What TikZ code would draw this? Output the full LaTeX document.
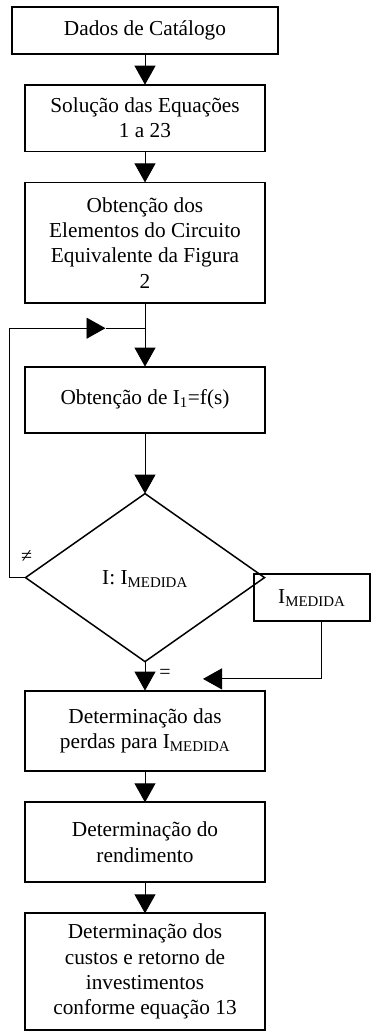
\documentclass[tikz,border=0pt]{standalone}
\usepackage{fontspec}
\setmainfont{Liberation Serif}
\usetikzlibrary{positioning,shapes.geometric,arrows.meta}

\begin{document}
\begin{tikzpicture}[x=1pt, y=1pt, node distance=31pt,
    caixa/.style={draw, line width=1.8pt, text width=236pt, inner sep=2pt, outer sep=0pt,
        align=flush center, font=\fontsize{21.3}{25.3}\selectfont},
    losango/.style={draw, diamond, line width=1.5pt, minimum width=239pt, minimum height=168pt,
        inner sep=0pt, outer sep=0pt, text depth=0pt, font=\fontsize{21.3}{25.3}\selectfont},
    fio/.style={line width=0.9pt},
    seta/.style={fio, -{Triangle[width=21pt, length=19pt]}},
    sinal/.style={inner sep=0pt, font=\fontsize{20}{20}\selectfont}]
    \useasboundingbox (0,0) rectangle (371,-1031);
    % coluna principal
    \node [caixa, text width=262pt, minimum height=46.4pt] (dados) at (145,-30.5) {Dados de Catálogo};
    \node [caixa, below=of dados, minimum height=66.7pt] (solucao) {Solução das Equações\\1 a 23};
    \node [caixa, below=of solucao, minimum height=120.8pt] (elementos) {Obtenção dos\\Elementos do Circuito\\Equivalente da Figura\\2};
    \node [caixa, below=of elementos, yshift=-32.4pt, minimum height=66pt] (obtencao) {Obtenção de I\textsubscript{1}=f(s)};
    \node [losango, below=of obtencao, yshift=-30pt] (decisao) {I: I\textsubscript{MEDIDA}};
    \node [caixa, below=of decisao, yshift=2pt, minimum height=80.7pt] (perdas) {Determinação das\\perdas para I\textsubscript{MEDIDA}};
    \node [caixa, below=of perdas, minimum height=80pt] (rendimento) {Determinação do\\rendimento};
    \node [caixa, below=of rendimento, minimum height=117pt] (custos) {Determinação dos\\custos e retorno de\\investimentos\\conforme equação 13};
    % entrada lateral
    \node [caixa, right=-10.7pt of decisao.east, yshift=-20pt, text width=112pt, minimum height=47.4pt] (medida) {I\textsubscript{MEDIDA}};
    % pontos de apoio
    \coordinate [below=25pt of elementos] (juncao);
    \coordinate [left=16pt of decisao.west] (retorno);
    \coordinate (canto) at (retorno |- juncao);
    \coordinate [right=96pt of canto] (ponta);
    \coordinate (chegada) at ([xshift=58pt, yshift=11.7pt]perdas.north);
    % ligacoes
    \draw [seta] (dados) -- (solucao);
    \draw [seta] (solucao) -- (elementos);
    \draw [fio] (elementos) -- (juncao);
    \draw [seta] (juncao) -- (obtencao);
    \draw [seta] (obtencao) -- (decisao);
    \draw [seta] (decisao) -- (perdas);
    \draw [seta] (perdas) -- (rendimento);
    \draw [seta] (rendimento) -- (custos);
    \draw [fio] (decisao) -- (retorno) -- (canto);
    \draw [seta] (canto) -- (ponta);
    \draw [fio] (ponta) -- (juncao);
    \draw [seta] ([xshift=10pt]medida.south) |- (chegada);
    % rotulos
    \node [sinal] (diferente) at ([xshift=1pt, yshift=21pt]decisao.west) {≠};
    \node [sinal] (igual) at ([xshift=20pt, yshift=-12pt]decisao.south) {=};
\end{tikzpicture}
\end{document}
